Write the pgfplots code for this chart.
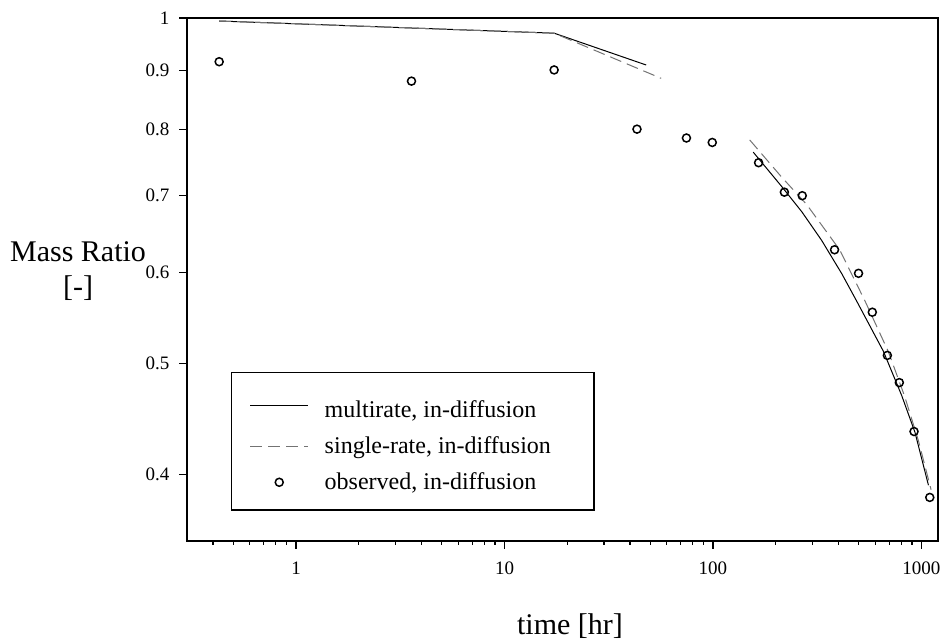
\documentclass[border=0pt]{standalone}
\usepackage{fontspec}
\setmainfont{Liberation Serif}
\usepackage{pgfplots}
\pgfplotsset{compat=1.18}
\begin{document}
\begin{tikzpicture}
\useasboundingbox (-93.5pt,-49.5pt) rectangle (378.5pt,270.5pt);
\begin{loglogaxis}[
  at={(0,0)}, anchor=south west,
  scale only axis, width=375.5pt, height=261.5pt,
  xmin=0.3, xmax=1200, ymin=0.35, ymax=1,
  axis line style={line width=1pt},
  xtick={1,10,100,1000}, xticklabels={1,10,100,1000},
  minor xtick={0.4,0.5,0.6,0.7,0.8,0.9,2,3,4,5,6,7,8,9,20,30,40,50,60,70,80,90,200,300,400,500,600,700,800,900},
  ytick={0.4,0.5,0.6,0.7,0.8,0.9,1}, yticklabels={0.4,0.5,0.6,0.7,0.8,0.9,1},
  minor ytick={},
  tick pos=left, tick align=outside,
  major tick length=4pt, minor tick length=2pt,
  every tick/.style={black, line width=0.6pt},
  /pgf/number format/assume math mode=true,
  xticklabel style={font=\fontsize{9.5}{10}\selectfont, yshift=-3pt},
  yticklabel style={font=\fontsize{9.5}{10}\selectfont, xshift=-1.3pt},
  clip=false,
  unbounded coords=jump,
  legend style={at={(0.0586,0.0574)}, anchor=south west, draw=black, line width=0.75pt,
    font=\fontsize{12}{14}\selectfont, inner xsep=9pt, inner ysep=7pt, row sep=4pt,
    /tikz/every odd column/.append style={column sep=6pt}},
  legend cell align=left,
  legend image code/.code={\draw[mark repeat=2,mark phase=2] plot coordinates {(0pt,0pt) (14.5pt,0pt) (29pt,0pt)};},
]
\addplot[black, line width=0.5pt] coordinates {
(0.428,0.994) (17.3,0.970) (47.8,0.910) (nan,nan)
(156,0.764) (213,0.7135) (267,0.6776) (332,0.640) (415,0.5984) (488,0.5668)
(656,0.5124) (804,0.4686) (931,0.4352) (1080,0.3915)
};
\addlegendentry{\rule{0pt}{13.5pt}\makebox[123.5pt][l]{multirate, in-diffusion}}
\addplot[black!55, line width=0.5pt, dash pattern=on 6pt off 3pt] coordinates {
(0.428,0.994) (17.3,0.970) (56.4,0.886) (nan,nan)
(150,0.783) (213,0.727) (281,0.688) (405,0.628) (535,0.567) (693,0.512)
(830,0.468) (967,0.428) (1112,0.388)
};
\addlegendentry{single-rate, in-diffusion}
\addplot[only marks, mark=o, mark size=2pt, mark options={line width=0.75pt, black}] coordinates {
(0.428,0.916) (3.58,0.881) (17.3,0.901) (43.2,0.800) (74.6,0.786) (99.2,0.779)
(165.5,0.748) (220,0.705) (268,0.700) (383,0.628) (499,0.599) (581,0.554)
(686,0.508) (783,0.481) (921,0.436) (1096,0.382)
};
\addlegendentry{observed, in-diffusion}
\node[font=\fontsize{15}{17.5}\selectfont, align=center] at (rel axis cs:-0.1451,0.517) {Mass Ratio\\{[-]}};
\node[font=\fontsize{15}{17.5}\selectfont] at (rel axis cs:0.51,-0.1625) {time [hr]};
\end{loglogaxis}
\end{tikzpicture}
\end{document}
